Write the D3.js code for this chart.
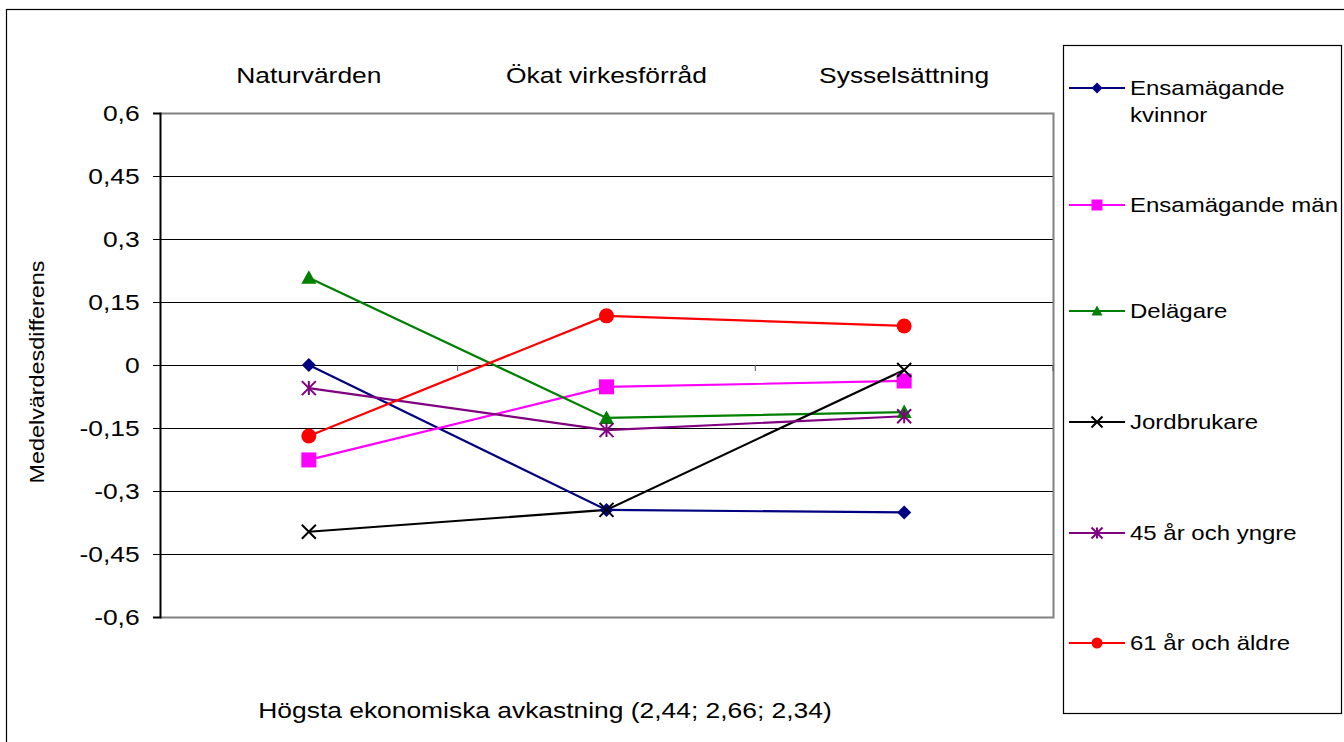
<!DOCTYPE html>
<html><head><meta charset="utf-8">
<script src="https://cdn.jsdelivr.net/npm/d3@7"></script>
<style>body{margin:0;background:#fff}svg{display:block}text{font-family:"Liberation Sans",Arial,sans-serif;fill:#000}</style>
</head><body>
<script>
const categories = ["Naturvärden", "Ökat virkesförråd", "Sysselsättning"];
const yTicks = [0.6, 0.45, 0.3, 0.15, 0, -0.15, -0.3, -0.45, -0.6];
const seriesNames = ["Ensamägande kvinnor", "Ensamägande män", "Delägare", "Jordbrukare", "45 år och yngre", "61 år och äldre"];
const kvinnor = [0.0, -0.345, -0.351];
const man = [-0.226, -0.052, -0.038];
const delagare = [0.208, -0.126, -0.112];
const jordbrukare = [-0.397, -0.345, -0.012];
const yngre = [-0.055, -0.155, -0.122];
const aldre = [-0.169, 0.117, 0.093];
const seriesValues = [kvinnor, man, delagare, jordbrukare, yngre, aldre];
const colors = ["#000080", "#FF00FF", "#008000", "#000000", "#800080", "#FF0000"];
const markers = ["diamond", "square", "triangle", "x", "asterisk", "circle"];
const xTitle = "Högsta ekonomiska avkastning (2,44; 2,66; 2,34)";
const yTitle = "Medelvärdesdifferens";

const W = 1344, H = 742;
const SX = 1.2; // horizontal glyph stretch seen in the reference
const svg = d3.select("body").append("svg").attr("width", W).attr("height", H);
svg.append("rect").attr("x", 6.5).attr("y", 9.5).attr("width", W + 10).attr("height", H + 10)
  .attr("fill", "#fff").attr("stroke", "#000").attr("stroke-width", 1.2);

const L = 160, R = 1053, T = 113, B = 617;
const x = d3.scaleBand().domain(categories).range([L, R]);
const y = d3.scaleLinear().domain([-0.6, 0.6]).range([B, T]);
const fmt = d => String(d).replace(".", ",");

function stext(parent, px, py, str, size, anchor, rot) {
  return parent.append("text")
    .attr("transform", `translate(${px},${py})${rot ? ` rotate(${rot})` : ""} scale(${SX},1)`)
    .attr("text-anchor", anchor || "start").attr("font-size", size).text(str);
}

// gridlines
svg.append("g").selectAll("line").data(yTicks.filter(d => d !== 0.6 && d !== -0.6)).join("line")
  .attr("x1", L).attr("x2", R).attr("y1", d => Math.round(y(d)) + 0.5).attr("y2", d => Math.round(y(d)) + 0.5)
  .attr("stroke", "#000").attr("stroke-width", 1);
// plot frame (gray)
svg.append("path").attr("d", `M${L},${T + 0.5}H${R + 0.5}V${B + 0.5}H${L}`)
  .attr("fill", "none").attr("stroke", "#808080").attr("stroke-width", 2);

// y axis
const yAxis = svg.append("g").attr("transform", `translate(${L},0)`)
  .call(d3.axisLeft(y).tickValues(yTicks).tickFormat(fmt).tickSize(7).tickPadding(10));
yAxis.select(".domain").attr("stroke", "#000").attr("stroke-width", 2);
yAxis.selectAll(".tick line").attr("stroke", "#000");
yAxis.selectAll(".tick text").attr("font-size", 22).attr("font-family", '"Liberation Sans",Arial,sans-serif')
  .attr("fill", "#000").attr("transform", `scale(${SX},1)`);

// category axis ticks at zero
const boundaries = [x(categories[1]), x(categories[2]), R];
svg.append("g").selectAll("line").data(boundaries).join("line")
  .attr("x1", d => d).attr("x2", d => d)
  .attr("y1", y(0)).attr("y2", y(0) + 6).attr("stroke", "#555").attr("stroke-width", 1);

// category labels on top
categories.forEach(c => stext(svg, x(c) + x.bandwidth() / 2, 83, c, 22, "middle"));

// axis titles
stext(svg, 545, 718, xTitle, 22, "middle");
stext(svg, 44, 372, yTitle, 19.5, "middle", -90);

function markerPath(type, s) {
  const h = s / 2;
  switch (type) {
    case "diamond": return `M0,${-h}L${h},0L0,${h}L${-h},0Z`;
    case "square": return `M${-h},${-h}H${h}V${h}H${-h}Z`;
    case "triangle": return `M0,${-h}L${h},${h * 0.8}L${-h},${h * 0.8}Z`;
    case "circle": return d3.symbol(d3.symbolCircle, Math.PI * h * h)();
    case "x": return `M${-h},${-h}L${h},${h}M${h},${-h}L${-h},${h}`;
    case "asterisk": return `M${-h},${-h}L${h},${h}M${h},${-h}L${-h},${h}M0,${-h}V${h}`;
  }
}
function drawMarker(g, type, color, s) {
  const open = type === "x" || type === "asterisk";
  g.append("path").attr("d", markerPath(type, s))
    .attr("fill", open ? "none" : color).attr("stroke", color).attr("stroke-width", open ? 2 : 0);
}

const line = d3.line().x((d, i) => x(categories[i]) + x.bandwidth() / 2).y(d => y(d));
seriesValues.forEach((vals, si) => {
  svg.append("path").attr("d", line(vals)).attr("fill", "none").attr("stroke", colors[si]).attr("stroke-width", 2.2);
});
seriesValues.forEach((vals, si) => {
  vals.forEach((v, i) => {
    const g = svg.append("g").attr("transform", `translate(${x(categories[i]) + x.bandwidth() / 2},${y(v)})`);
    const s = markers[si] === "circle" ? 15 : markers[si] === "square" ? 15 : markers[si] === "triangle" ? 15 : 14;
    drawMarker(g, markers[si], colors[si], s);
  });
});

// legend
svg.append("rect").attr("x", 1063.5).attr("y", 45.5).attr("width", 278).attr("height", 668)
  .attr("fill", "#fff").attr("stroke", "#000").attr("stroke-width", 1.2);
const legendY = [88, 205, 311, 422, 533, 643];
const legendLabels = [["Ensamägande", "kvinnor"], ["Ensamägande män"], ["Delägare"], ["Jordbrukare"], ["45 år och yngre"], ["61 år och äldre"]];
seriesNames.forEach((n, si) => {
  const g = svg.append("g").attr("transform", `translate(0,${legendY[si]})`);
  g.append("line").attr("x1", 1069).attr("x2", 1125).attr("y1", 0).attr("y2", 0).attr("stroke", colors[si]).attr("stroke-width", 2);
  const mg = g.append("g").attr("transform", "translate(1097,0)");
  drawMarker(mg, markers[si], colors[si], 11);
  legendLabels[si].forEach((l, li) => stext(g, 1130, 7 + li * 27, l, 20, "start"));
});
</script>
</body></html>
